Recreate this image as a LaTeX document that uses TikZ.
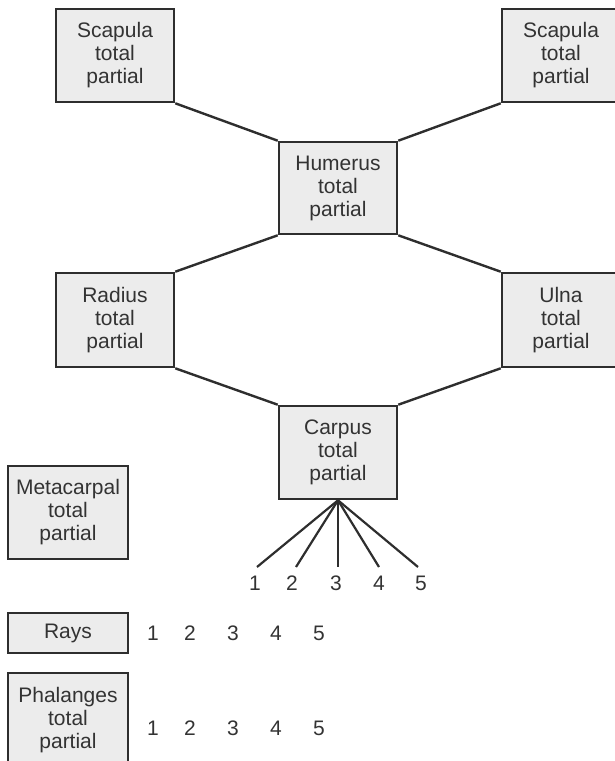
\documentclass[tikz,border=0pt]{standalone}
\usepackage{fontspec}
\setmainfont{Liberation Sans}
\definecolor{boxfill}{HTML}{ECECEC}
\definecolor{boxline}{HTML}{2E2E2E}
\definecolor{txt}{HTML}{333333}
\begin{document}
\begin{tikzpicture}[x=1pt,y=-1pt,
  bone/.style={draw=boxline, fill=boxfill, line width=2.6pt, inner sep=0pt,
    minimum width=118pt, minimum height=93pt, align=center, text=txt,
    font=\fontsize{21}{23}\selectfont},
  wide/.style={minimum width=120pt},
  num/.style={inner sep=0pt, text=txt, font=\fontsize{21}{23}\selectfont},
  link/.style={draw=boxline, line width=2.4pt}]
\useasboundingbox (0,0) rectangle (614,761);
% boxes
\node[bone] (scapL) at (115,55.5) {Scapula\\total\\partial};
\node[bone] (scapR) at (561,55.5) {Scapula\\total\\partial};
\node[bone, minimum height=92pt] (hum) at (338,188) {Humerus\\total\\partial};
\node[bone, minimum height=94pt] (rad) at (115,320) {Radius\\total\\partial};
\node[bone, minimum height=94pt] (uln) at (561,320) {Ulna\\total\\partial};
\node[bone] (carp) at (338,452.5) {Carpus\\total\\partial};
\node[bone, wide] (meta) at (68,512.5) {Metacarpal\\total\\partial};
\node[bone, wide, minimum height=40pt] (rays) at (68,633) {Rays};
\node[bone, wide, minimum height=94pt] (phal) at (68,720) {Phalanges\\total\\partial};
% connectors
\draw[link] (scapL.south east) -- (hum.north west);
\draw[link] (scapR.south west) -- (hum.north east);
\draw[link] (hum.south west) -- (rad.north east);
\draw[link] (hum.south east) -- (uln.north west);
\draw[link] (rad.south east) -- (carp.north west);
\draw[link] (uln.south west) -- (carp.north east);
% fan
\coordinate (f1) at (257,567);
\coordinate (f2) at (296,567);
\coordinate (f3) at (338,567);
\coordinate (f4) at (379,567);
\coordinate (f5) at (418,567);
\foreach \i in {1,...,5} \draw[link, line width=2.2pt] (carp.south) -- (f\i);
\node[num] (c1) at (255,583) {1};
\node[num] (c2) at (292,583) {2};
\node[num] (c3) at (336,583) {3};
\node[num] (c4) at (379,583) {4};
\node[num] (c5) at (421,583) {5};
% rays numbers
\node[num] (r1) at (153,633) {1};
\node[num] (r2) at (190,633) {2};
\node[num] (r3) at (233,633) {3};
\node[num] (r4) at (276,633) {4};
\node[num] (r5) at (319,633) {5};
% phalanges numbers
\node[num] (p1) at (153,728) {1};
\node[num] (p2) at (190,728) {2};
\node[num] (p3) at (233,728) {3};
\node[num] (p4) at (276,728) {4};
\node[num] (p5) at (319,728) {5};
\end{tikzpicture}
\end{document}
